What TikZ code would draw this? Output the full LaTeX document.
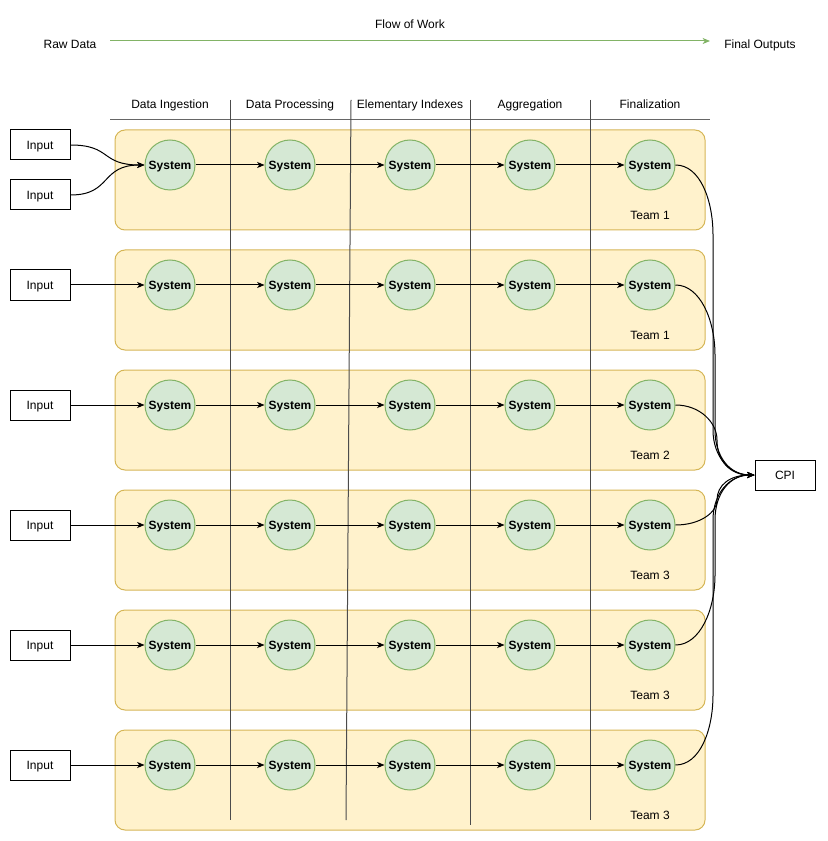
\documentclass[tikz,border=0pt]{standalone}
\usepackage{fontspec}
\setmainfont{Liberation Sans}
\usepackage{xcolor}
\usetikzlibrary{arrows.meta, positioning}
\definecolor{laneFill}{HTML}{FFF2CC}
\definecolor{laneLine}{HTML}{D6B656}
\definecolor{sysFill}{HTML}{D5E8D4}
\definecolor{sysLine}{HTML}{82B366}

\begin{document}
\begin{tikzpicture}[x=0.75pt, y=-0.75pt, >={Stealth[length=5.5pt, width=4.5pt, inset=1.5pt]}, line width=0.75pt,
    font=\fontsize{9}{11}\selectfont,
    every node/.append style={text depth=0pt},
    lane/.style={draw=laneLine, fill=laneFill, rounded corners=7.5pt},
    system/.style={circle, draw=sysLine, fill=sysFill, minimum size=37.5pt, inner sep=0pt, font=\fontsize{9}{11}\selectfont\bfseries},
    inbox/.style={draw, fill=white, minimum width=45pt, minimum height=22.5pt, inner sep=0pt}]
                        \useasboundingbox (0,0) rectangle (827,841);
                        % header
                        \node (flow) at (410,24) {Flow of Work};
                        \node (raw) at (70,44) {Raw Data};
                        \node (final) at (760,44) {Final Outputs};
                        \coordinate (fstart) at (110,41);
                        \coordinate (fend) at (710,41);
                        \draw[->, sysLine] (fstart) -- (fend);
                        \node (h1) at (170,104) {Data Ingestion};
                        \node (h2) at (290,104) {Data Processing};
                        \node (h3) at (410,104) {Elementary Indexes};
                        \node (h4) at (530,104) {Aggregation};
                        \node (h5) at (650,104) {Finalization};
                        \draw[black!60] (110,120) -- (710,120);
                        % lanes
                        \foreach \r/\t in {1/1, 2/1, 3/2, 4/3, 5/3, 6/3} {
                            \pgfmathsetmacro\yy{165+120*(\r-1)}
                            \draw[lane] (115,{\yy-35}) rectangle (705,{\yy+65});
                            \node (team\r) at (650,{\yy+50}) {Team \t};
                        }
                        % stage separators
                        \draw[black!70] (230,100) -- (230,820);
                        \draw[black!70] (351,100) -- (346,820);
                        \draw[black!70] (470,100) -- (470,825);
                        \draw[black!70] (590,100) -- (590,820);
                        % systems
                        \node[inbox] (cpi) at (785,475) {CPI};
                        \foreach \r/\vx in {1/713, 2/715, 3/717, 4/717, 5/715, 6/713} {
                            \pgfmathsetmacro\yy{165+120*(\r-1)}
                            \pgfmathsetmacro\dd{sign(475-\yy)}
                            \pgfmathsetmacro\aa{min(abs(475-\yy)/2,70)}
                            \pgfmathsetmacro\bb{min(abs(475-\yy)/2,45)}
                            \foreach \c in {1,...,5}
                                \node[system] (s\r-\c) at ({50+120*\c},\yy) {System};
                            \foreach \c/\n in {1/2, 2/3, 3/4, 4/5}
                                \draw[->] (s\r-\c) -- (s\r-\n);
                            \draw[->] (s\r-5.east) .. controls (700,\yy) and (\vx,{\yy+\dd*\aa*0.5}) .. (\vx,{\yy+\dd*\aa})
                                -- (\vx,{475-\dd*\bb}) .. controls (\vx,{475-\dd*\bb*0.4}) and (730,475) .. (cpi.west);
                        }
                        % inputs
                        \node[inbox] (in1a) at (40,145) {Input};
                        \node[inbox] (in1b) at (40,195) {Input};
                        \draw[->] (in1a.east) .. controls (112,145) and (100,165) .. (s1-1.west);
                        \draw[->] (in1b.east) .. controls (112,195) and (100,165) .. (s1-1.west);
                        \foreach \r in {2,...,6} {
                            \pgfmathsetmacro\yy{165+120*(\r-1)}
                            \node[inbox] (in\r) at (40,\yy) {Input};
                            \draw[->] (in\r) -- (s\r-1);
                        }
                    \end{tikzpicture}
\end{document}
